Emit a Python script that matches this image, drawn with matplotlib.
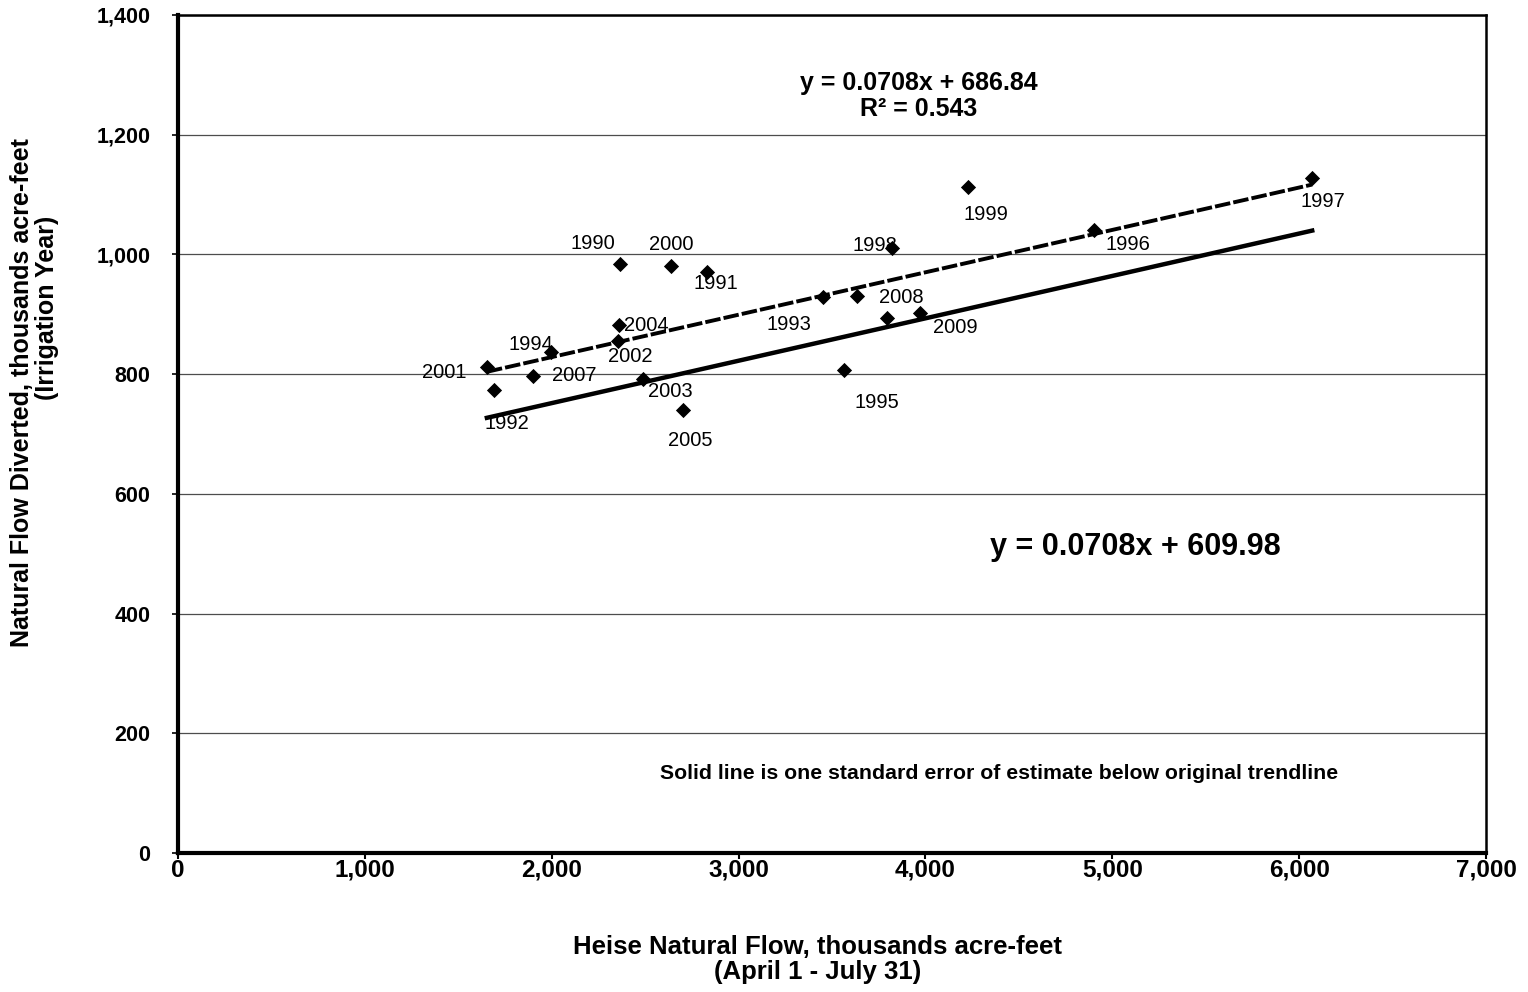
import matplotlib
matplotlib.use("Agg")
import matplotlib.pyplot as plt
import numpy as np

plt.rcParams['font.family'] = ['Liberation Sans', 'DejaVu Sans']

# Data: Heise natural flow (x) vs natural flow diverted (y), thousands acre-feet
years = ["1990", "1991", "1992", "1993", "1994", "1995", "1996", "1997", "1998", "1999",
         "2000", "2001", "2002", "2003", "2004", "2005", "2006", "2007", "2008", "2009"]
heise_flow = [2367, 2829, 1692, 3454, 1996, 3564, 4900, 6070, 3819, 4227,
              2638, 1653, 2353, 2487, 2362, 2700, 3792, 1902, 3632, 3970]
diverted = [984, 970, 773, 928, 837, 807, 1040, 1128, 1010, 1112,
            981, 812, 855, 792, 882, 740, 894, 797, 930, 902]
# label offsets in pixels (dx, dy) — styling only
label_offsets = [(-27, 20), (9, -11), (13, -33), (-34, -27), (-20, 7), (33, -33), (34, -14),
                 (11, -24), (-17, 3), (18, -27), (0, 21), (-43, -6), (13, -15), (28, -13),
                 (27, 0), (8, -30), None, (41, 0), (45, -1), (35, -14)]

slope = 0.0708
intercept_trend = 686.84
intercept_lower = 609.98
r2 = 0.543

xticks = [0, 1000, 2000, 3000, 4000, 5000, 6000, 7000]
yticks = [0, 200, 400, 600, 800, 1000, 1200, 1400]

fig = plt.figure(figsize=(15.28, 9.92), dpi=100)
ax = fig.add_axes([0.1165, 0.140, 0.8560, 0.845])

ax.set_xlim(0, 7000)
ax.set_ylim(0, 1400)

ax.set_yticks(yticks)
ax.set_xticks(xticks)
ax.set_yticklabels([f"{v:,}" for v in yticks])
ax.set_xticklabels([f"{v:,}" for v in xticks])
ax.yaxis.grid(True, color='0.3', linewidth=0.9)
ax.set_axisbelow(True)

for lab in ax.get_yticklabels():
    lab.set_fontweight('bold')
    lab.set_fontsize(15.5)
for lab in ax.get_xticklabels():
    lab.set_fontweight('bold')
    lab.set_fontsize(17.5)
ax.tick_params(axis='y', direction='out', length=4, width=1.2, pad=16)
ax.tick_params(axis='x', direction='out', length=4, width=1.5, pad=0)

ax.spines['left'].set_linewidth(3)
ax.spines['bottom'].set_linewidth(3)
ax.spines['top'].set_linewidth(1.8)
ax.spines['right'].set_linewidth(1.8)

xs = np.array([min(heise_flow), max(heise_flow)])
ax.plot(xs, slope * xs + intercept_trend, color='black', lw=2.8,
        linestyle=(0, (4, 0.8)), zorder=3)
ax.plot(xs, slope * xs + intercept_lower, color='black', lw=3.2, zorder=3)

ax.scatter(heise_flow, diverted, marker='D', s=60, color='black', zorder=4, linewidths=0)

for yr, x, y, off in zip(years, heise_flow, diverted, label_offsets):
    if off is None:
        continue
    ax.annotate(yr, (x, y), xytext=off, textcoords='offset pixels',
                ha='center', va='center', fontsize=14.5)

ax.text(0.566, 0.903, f"y = {slope}x + {intercept_trend}\nR² = {r2}",
        transform=ax.transAxes, ha='center', va='center', fontsize=18,
        fontweight='bold', linespacing=1.12)
ax.text(0.732, 0.365, f"y = {slope}x + {intercept_lower}", transform=ax.transAxes,
        ha='center', va='center', fontsize=22, fontweight='bold')
ax.text(0.628, 0.0955, "Solid line is one standard error of estimate below original trendline",
        transform=ax.transAxes, ha='center', va='center', fontsize=15.3, fontweight='bold')

ax.set_xlabel("Heise Natural Flow, thousands acre-feet\n(April 1 - July 31)",
              fontsize=18.5, fontweight='bold', linespacing=1.05)
ax.xaxis.set_label_coords(0.489, -0.0979)

fig.text(22 / 1528, 1 - 393 / 992, "Natural Flow Diverted, thousands acre-feet",
         rotation=90, ha='center', va='center', fontsize=18, fontweight='bold')
fig.text(47 / 1528, 1 - 308 / 992, "(Irrigation Year)",
         rotation=90, ha='center', va='center', fontsize=18, fontweight='bold')

fig.savefig("out.png", dpi=100)
